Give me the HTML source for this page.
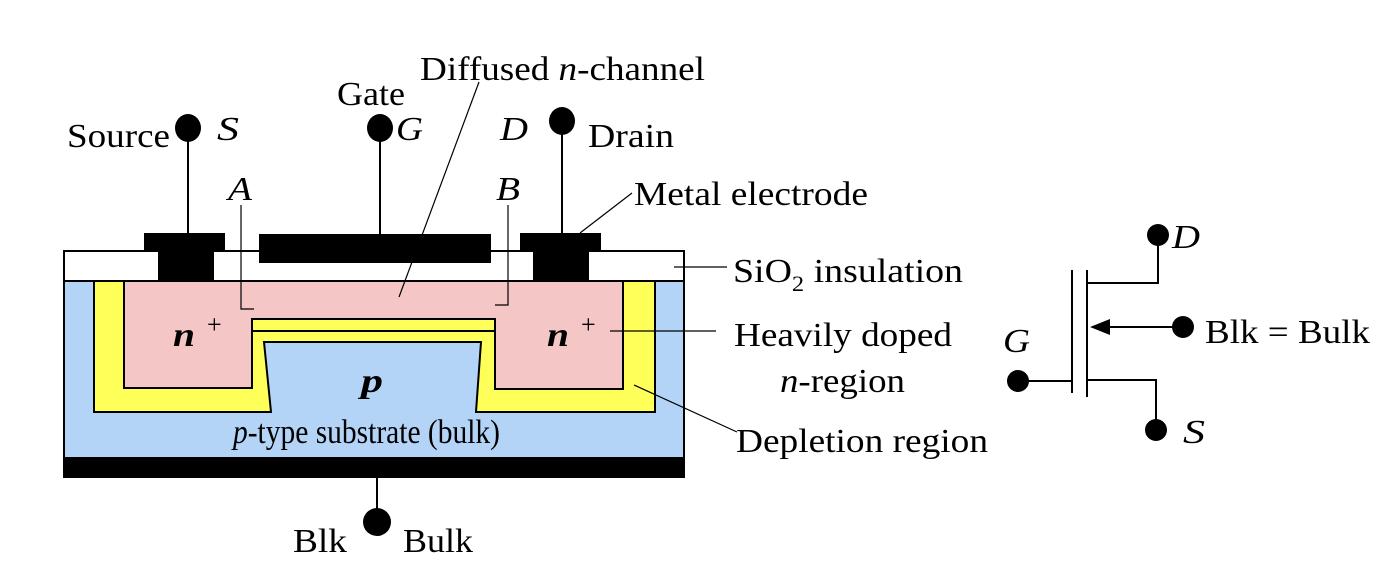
<!DOCTYPE html>
<html><head><meta charset="utf-8"><style>html,body{margin:0;padding:0;background:#fff}svg{display:block}</style></head><body>
<svg width="1386" height="582" viewBox="0 0 1386 582" xmlns="http://www.w3.org/2000/svg" font-family="Liberation Serif, serif" font-size="34" fill="#000">
<rect x="64" y="251" width="620" height="207" fill="#b3d3f7" stroke="#000" stroke-width="2"/>
<rect x="64" y="251" width="620" height="30" fill="#fff" stroke="#000" stroke-width="2"/>
<rect x="63" y="457" width="622" height="21" fill="#000"/>
<polygon points="94,281 655,281 655,412 476,412 481,342 264,342 271,412 94,412" fill="#ffff5a" stroke="#000" stroke-width="2"/>
<polygon points="124,281 623,281 623,389 495,389 495,319 252,319 252,388 124,388" fill="#f5c6c6" stroke="#000" stroke-width="2"/>
<rect x="252" y="319" width="243" height="12" fill="#ffff5a" stroke="#000" stroke-width="2"/>
<rect x="144" y="233" width="81" height="19" fill="#000"/>
<rect x="158" y="250" width="56" height="31" fill="#000"/>
<rect x="259" y="234" width="232" height="29" fill="#000"/>
<rect x="520" y="233" width="81" height="19" fill="#000"/>
<rect x="533" y="250" width="56" height="31" fill="#000"/>
<g stroke="#000" stroke-width="2" fill="none">
<line x1="188" y1="128" x2="188" y2="233"/>
<line x1="380" y1="128" x2="380" y2="234"/>
<line x1="562" y1="121" x2="562" y2="233"/>
<line x1="377" y1="478" x2="377" y2="520"/>
<polyline points="241,205 241,309 254,309" stroke-width="1.2"/>
<polyline points="508,205 508,305 495,305" stroke-width="1.2"/>
<line x1="479" y1="82" x2="399" y2="297" stroke-width="1.2"/>
<line x1="632" y1="193" x2="580" y2="233" stroke-width="1.2"/>
<line x1="674" y1="267" x2="727" y2="267" stroke-width="1.2"/>
<line x1="610" y1="331" x2="716" y2="331" stroke-width="1.2"/>
<line x1="634" y1="385" x2="737" y2="432" stroke-width="1.2"/>
</g>
<ellipse cx="188" cy="128" rx="13" ry="14"/>
<ellipse cx="380" cy="128" rx="13" ry="14"/>
<ellipse cx="562" cy="121" rx="13" ry="14"/>
<ellipse cx="377" cy="522" rx="14" ry="14"/>
<text x="67" y="147" textLength="103" lengthAdjust="spacingAndGlyphs">Source</text>
<text x="217" y="140" font-style="italic" textLength="22" lengthAdjust="spacingAndGlyphs">S</text>
<text x="337" y="105" textLength="68" lengthAdjust="spacingAndGlyphs">Gate</text>
<text x="396" y="140" font-style="italic" textLength="27" lengthAdjust="spacingAndGlyphs">G</text>
<text x="420" y="80" textLength="285" lengthAdjust="spacingAndGlyphs">Diffused <tspan font-style="italic">n</tspan>-channel</text>
<text x="500" y="140" font-style="italic" textLength="28" lengthAdjust="spacingAndGlyphs">D</text>
<text x="588" y="147" textLength="86" lengthAdjust="spacingAndGlyphs">Drain</text>
<text x="228" y="200" font-style="italic" textLength="24" lengthAdjust="spacingAndGlyphs">A</text>
<text x="496" y="200" font-style="italic" textLength="24" lengthAdjust="spacingAndGlyphs">B</text>
<text x="634" y="205" textLength="234" lengthAdjust="spacingAndGlyphs">Metal electrode</text>
<text x="733" y="282" textLength="230" lengthAdjust="spacingAndGlyphs">SiO<tspan font-size="22" dy="9">2</tspan><tspan dy="-9"> insulation</tspan></text>
<text x="734" y="346" textLength="218" lengthAdjust="spacingAndGlyphs">Heavily doped</text>
<text x="780" y="392" textLength="125" lengthAdjust="spacingAndGlyphs"><tspan font-style="italic">n</tspan>-region</text>
<text x="736" y="452" textLength="252" lengthAdjust="spacingAndGlyphs">Depletion region</text>
<text x="173" y="346" font-style="italic" font-weight="bold" font-size="34" textLength="22" lengthAdjust="spacingAndGlyphs">n</text>
<text x="207" y="333" font-size="26">+</text>
<text x="547" y="346" font-style="italic" font-weight="bold" font-size="34" textLength="22" lengthAdjust="spacingAndGlyphs">n</text>
<text x="581" y="333" font-size="26">+</text>
<text x="361" y="392" font-style="italic" font-weight="bold" font-size="34" textLength="22" lengthAdjust="spacingAndGlyphs">p</text>
<text x="233" y="443" textLength="267" lengthAdjust="spacingAndGlyphs"><tspan font-style="italic">p</tspan>-type substrate (bulk)</text>
<text x="293" y="552" textLength="54" lengthAdjust="spacingAndGlyphs">Blk</text>
<text x="403" y="552" textLength="70" lengthAdjust="spacingAndGlyphs">Bulk</text>
<g stroke="#000" stroke-width="2" fill="none">
<line x1="1072" y1="270" x2="1072" y2="393"/>
<line x1="1087" y1="270" x2="1087" y2="397"/>
<polyline points="1087,283 1158,283 1158,235"/>
<polyline points="1087,380 1156,380 1156,430"/>
<line x1="1018" y1="381" x2="1072" y2="381"/>
<line x1="1105" y1="327" x2="1183" y2="327"/>
</g>
<polygon points="1090,327 1110,319 1110,335"/>
<circle cx="1158" cy="235" r="11"/>
<circle cx="1156" cy="430" r="11"/>
<circle cx="1183" cy="327" r="11"/>
<circle cx="1018" cy="381" r="11"/>
<text x="1172" y="248" font-style="italic" textLength="28" lengthAdjust="spacingAndGlyphs">D</text>
<text x="1183" y="443" font-style="italic" textLength="22" lengthAdjust="spacingAndGlyphs">S</text>
<text x="1003" y="352" font-style="italic" textLength="27" lengthAdjust="spacingAndGlyphs">G</text>
<text x="1205" y="343" textLength="165" lengthAdjust="spacingAndGlyphs">Blk = Bulk</text>
</svg>
</body></html>
